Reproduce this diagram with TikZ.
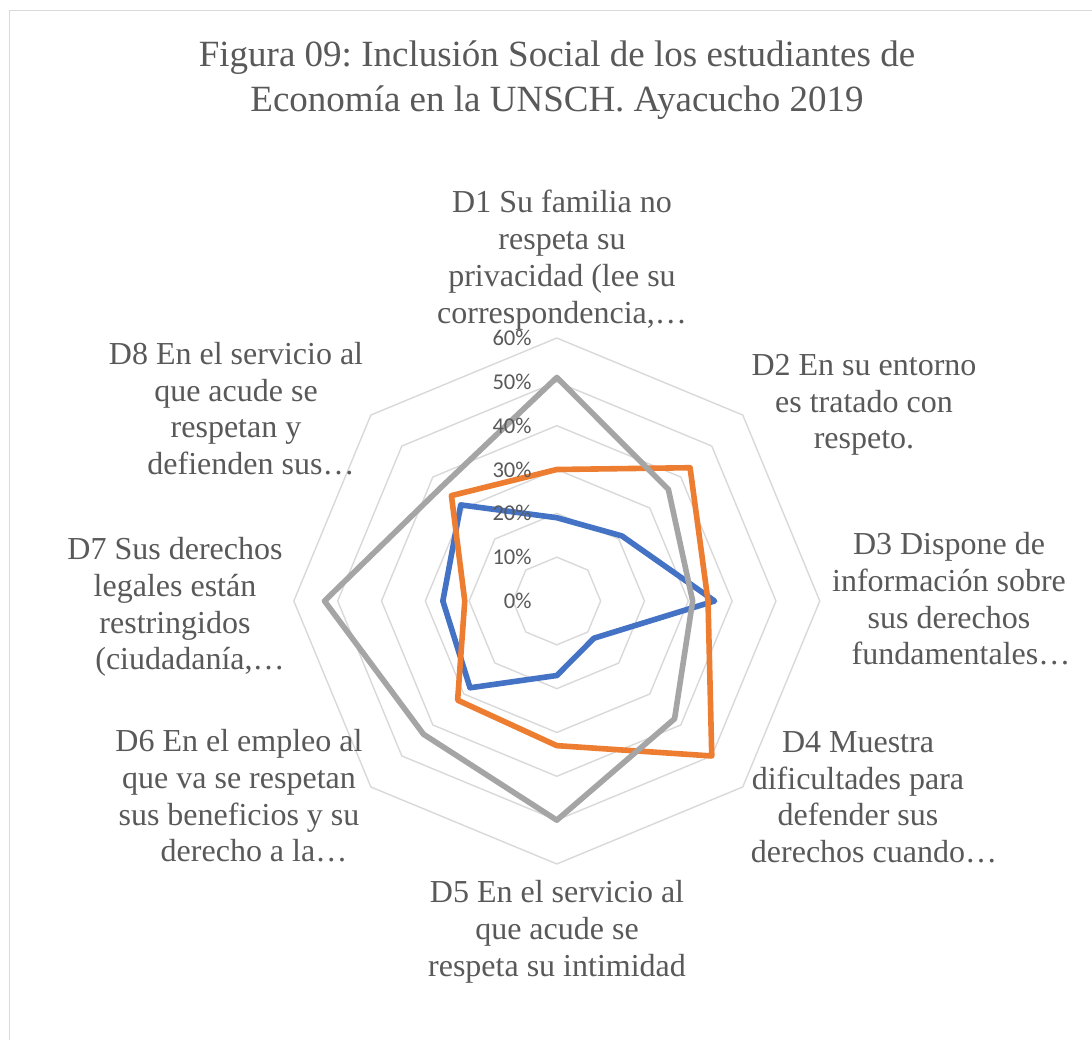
\documentclass[tikz,border=0pt]{standalone}
\usepackage{fontspec}
\setmainfont{Liberation Serif}
\newfontfamily\tickfont{Carlito}
\usetikzlibrary{positioning}
\definecolor{blue}{RGB}{68,114,196}
\definecolor{orange}{RGB}{237,125,49}
\definecolor{gray}{RGB}{165,165,165}
\definecolor{txtgray}{RGB}{89,89,89}
\definecolor{gridgray}{RGB}{217,217,217}
\frenchspacing

\begin{document}
\begin{tikzpicture}[x=0.5pt, y=0.5pt,
    ring/.style={gridgray, line width=0.7},
    serie/.style={line width=2.8, line join=round},
    tick/.style={anchor=east, inner sep=0, text=txtgray, font=\tickfont\fontsize{11.3}{13}\selectfont},
    lbl/.style={anchor=north, inner sep=0, align=center, text=txtgray, font=\fontsize{16}{18.35}\selectfont}]
        \useasboundingbox (0,0) rectangle (1092,1039);
        \fill[white] (0,0) rectangle (1092,1039);
        \draw[gridgray, line width=0.75] (9.5,-10) -- (9.5,1028.5) -- (1110,1028.5);
        % title %
        \node[anchor=north, inner sep=0, align=center, text=txtgray, font=\fontsize{18.5}{22.5}\selectfont] (title) at (557,999)
            {Figura 09: Inclusión Social de los estudiantes de\\Economía en la UNSCH. Ayacucho 2019};
        \coordinate (ctr) at (556.8,438);
        \begin{scope}[shift={(ctr)}, x=2.1915pt, y=2.1915pt]
        % grid %
        \draw[ring] (90:10) -- (45:10) -- (0:10) -- (-45:10) -- (-90:10) -- (-135:10) -- (180:10) -- (135:10) -- cycle;
        \draw[ring] (90:20) -- (45:20) -- (0:20) -- (-45:20) -- (-90:20) -- (-135:20) -- (180:20) -- (135:20) -- cycle;
        \draw[ring] (90:30) -- (45:30) -- (0:30) -- (-45:30) -- (-90:30) -- (-135:30) -- (180:30) -- (135:30) -- cycle;
        \draw[ring] (90:40) -- (45:40) -- (0:40) -- (-45:40) -- (-90:40) -- (-135:40) -- (180:40) -- (135:40) -- cycle;
        \draw[ring] (90:50) -- (45:50) -- (0:50) -- (-45:50) -- (-90:50) -- (-135:50) -- (180:50) -- (135:50) -- cycle;
        \draw[ring] (90:60) -- (45:60) -- (0:60) -- (-45:60) -- (-90:60) -- (-135:60) -- (180:60) -- (135:60) -- cycle;
        % series %
        \draw[serie, blue] (90:19) -- (45:21) -- (0:36) -- (-45:12) -- (-90:17) -- (-135:28) -- (180:26) -- (135:31) -- cycle;
        \draw[serie, orange] (90:30) -- (45:43) -- (0:34.5) -- (-45:50) -- (-90:33) -- (-135:32) -- (180:21) -- (135:34) -- cycle;
        \draw[serie, gray] (90:51) -- (45:36) -- (0:31) -- (-45:38) -- (-90:50) -- (-135:43) -- (180:53) -- (135:37) -- cycle;
        % ticks %
        \node[tick] (t0) at (-5.66,0) {0\%};
        \node[tick] (t10) at (-5.66,10) {10\%};
        \node[tick] (t20) at (-5.66,20) {20\%};
        \node[tick] (t30) at (-5.66,30) {30\%};
        \node[tick] (t40) at (-5.66,40) {40\%};
        \node[tick] (t50) at (-5.66,50) {50\%};
        \node[tick] (t60) at (-5.66,60) {60\%};
        \end{scope}
        % labels %
        \node[lbl] (d1) at (562,849) {D1 Su familia no\\respeta su\\privacidad (lee su\\correspondencia,…};
        \node[lbl] (d2) at (864,685) {D2 En su entorno\\es tratado con\\respeto.};
        \node[lbl] (d3) at (949,507) {D3 Dispone de\\información sobre\\sus derechos\\\hspace*{12pt}fundamentales…};
        \node[lbl] (d4) at (858,308) {D4 Muestra\\dificultades para\\defender sus\\\hspace*{16pt}derechos cuando…};
        \node[lbl] (d5) at (557,159) {D5 En el servicio al\\que acude se\\respeta su intimidad};
        \node[lbl] (d6) at (239,310) {D6 En el empleo al\\que va se respetan\\sus beneficios y su\\\hspace*{15pt}derecho a la…};
        \node[lbl] (d7) at (175,502) {D7 Sus derechos\\legales están\\restringidos\\\hspace*{15pt}(ciudadanía,…};
        \node[lbl] (d8) at (236,697) {D8 En el servicio al\\que acude se\\respetan y\\\hspace*{15pt}defienden sus…};
      \end{tikzpicture}
\end{document}
